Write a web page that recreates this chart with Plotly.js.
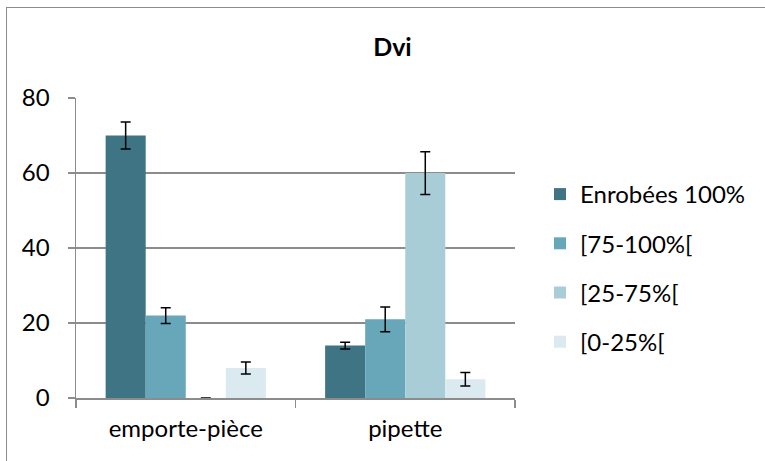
<!DOCTYPE html>
<html>
<head>
<meta charset="utf-8">
<script src="https://cdn.plot.ly/plotly-3.0.1.min.js"></script>
<style>
html,body{margin:0;padding:0;background:#fff;}
#frame{position:absolute;left:6px;top:7px;width:900px;height:600px;border:1.5px solid #8c8c8c;}
#chart{position:absolute;left:0;top:0;width:765px;height:461px;}
</style>
</head>
<body>
<div id="frame"></div>
<div id="chart"></div>
<script>
const categories = ["emporte-pièce", "pipette"];
const seriesNames = ["Enrobées 100%", "[75-100%[", "[25-75%[", "[0-25%["];
const enrobees = [70, 14];
const s75_100 = [22, 21];
const s25_75 = [0, 60];
const s0_25 = [8, 5];
const errEnrobees = [3.6, 0.9];
const err75_100 = [2.1, 3.3];
const err25_75 = [0, 5.7];
const err0_25 = [1.6, 1.8];
const yTicks = [0, 20, 40, 60, 80];

const colors = ["#3e7483", "#67a7b9", "#a8cdd6", "#dbeaf0"];
const values = [enrobees, s75_100, s25_75, s0_25];
const errs = [errEnrobees, err75_100, err25_75, err0_25];

const traces = values.map((v, i) => ({
  type: "bar",
  name: seriesNames[i],
  x: categories,
  y: v,
  legendgroup: "g" + i,
  marker: {color: colors[i], line: {width: 0}},
  error_y: {type: "data", array: errs[i], visible: true, color: "#000", thickness: 1.5, width: 5}
}));

const font = "Lato, 'Open Sans', sans-serif";
const fs = 24;
const layout = {
  width: 765, height: 461,
  paper_bgcolor: "rgba(0,0,0,0)",
  plot_bgcolor: "rgba(0,0,0,0)",
  margin: {l: 76, r: 250, t: 98, b: 63},
  barmode: "group",
  bargap: 0.27,
  bargroupgap: 0,
  title: {text: "<b>Dvi</b>", x: 0.513, xref: "container", y: 1 - 47 / 461, yref: "container", yanchor: "middle",
          font: {family: font, size: 25, color: "#000"}},
  font: {family: font, size: fs, color: "#000"},
  xaxis: {
    type: "category",
    showline: true, linecolor: "#8c8c8c", linewidth: 1.5,
    ticks: "outside", ticklen: 8, tickwidth: 1.5, tickcolor: "#8c8c8c",
    tickson: "boundaries",
    showgrid: false,
    tickfont: {family: font, size: fs, color: "#000"},
    ticklabelstandoff: 9
  },
  yaxis: {
    range: [0, 80],
    tickvals: yTicks,
    showline: true, linecolor: "#8c8c8c", linewidth: 1.5,
    ticks: "outside", ticklen: 7, tickwidth: 1.5, tickcolor: "#8c8c8c",
    showgrid: true, gridcolor: "#8c8c8c", gridwidth: 1.5,
    zeroline: false,
    tickfont: {family: font, size: fs, color: "#000"},
    ticklabelstandoff: 13
  },
  showlegend: true,
  legend: {
    xanchor: "left", yanchor: "middle",
    font: {family: font, size: fs, color: "#000"},
    tracegroupgap: 15,
    bgcolor: "rgba(0,0,0,0)"
  }
};
layout.legend.x = 540 / 765;
layout.legend.y = 1 - 268 / 461;
layout.legend.xref = "container";
layout.legend.yref = "container";

Plotly.newPlot("chart", traces, layout, {staticPlot: true, displayModeBar: false});
</script>
</body>
</html>
